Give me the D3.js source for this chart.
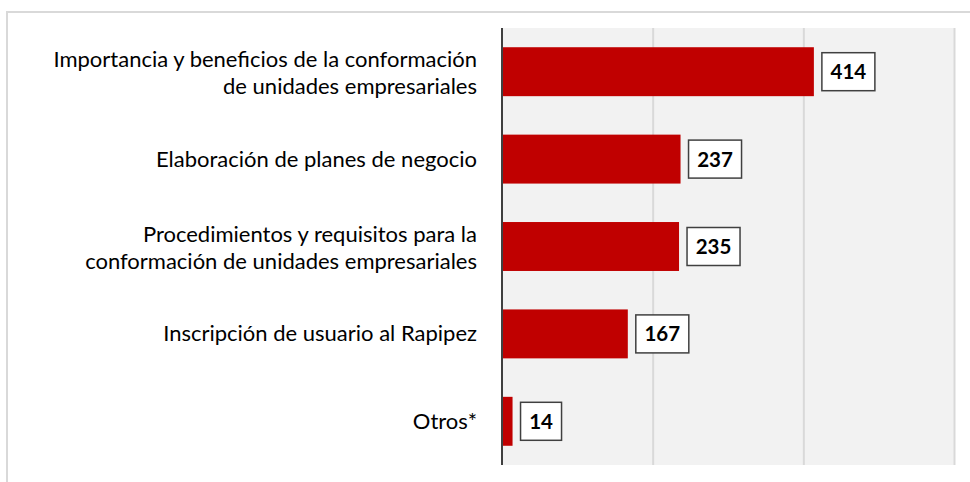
<!DOCTYPE html>
<html><head><meta charset="utf-8">
<script src="https://cdn.jsdelivr.net/npm/d3@7"></script>
<style>html,body{margin:0;padding:0;background:#fff;overflow:hidden}</style>
</head><body>
<svg id="c" width="970" height="482"></svg>
<script>
const categories = [
  ["Importancia y beneficios de la conformación", "de unidades empresariales"],
  ["Elaboración de planes de negocio"],
  ["Procedimientos y requisitos para la", "conformación de unidades empresariales"],
  ["Inscripción de usuario al Rapipez"],
  ["Otros*"]
];
const values = [414, 237, 235, 167, 14];
const xTicks = [0, 200, 400, 600];

(function () {
const svg = d3.select("#c");
const font = "Lato, 'Open Sans', sans-serif";

// outer frame
svg.append("rect").attr("x", 7).attr("y", 12).attr("width", 1000).attr("height", 500)
  .attr("fill", "none").attr("stroke", "#d9d9d9").attr("stroke-width", 2);

const pl = 502, pr = 954, pt = 28, pb = 465;
const x = d3.scaleLinear().domain([0, 600]).range([pl, pr]);
const y = d3.scaleBand().domain(d3.range(values.length)).range([pt, pb]).paddingInner(0.44).paddingOuter(0.22);

svg.append("rect").attr("x", pl).attr("y", pt).attr("width", pr - pl + 1).attr("height", pb - pt).attr("fill", "#f2f2f2");

// gridlines
svg.append("g").attr("transform", `translate(0,${pb})`)
  .call(d3.axisBottom(x).tickValues(xTicks.slice(1)).tickSize(-(pb - pt)).tickFormat(""))
  .call(g => g.select(".domain").remove())
  .call(g => g.selectAll(".tick line").attr("stroke", "#d9d9d9").attr("stroke-width", 2));

// bars
svg.append("g").selectAll("rect").data(values).join("rect")
  .attr("x", x(0)).attr("y", (d, i) => y(i))
  .attr("width", d => x(d) - x(0)).attr("height", y.bandwidth())
  .attr("fill", "#c00000");

// y axis
svg.append("g").attr("transform", `translate(${pl},0)`)
  .call(d3.axisLeft(y).tickSize(0).tickFormat(""))
  .call(g => g.select(".domain").attr("stroke", "#404040").attr("stroke-width", 2).attr("d", `M0,${pt}V${pb}`));

// category labels
const lab = svg.append("g").attr("font-family", font).attr("font-size", 22).attr("fill", "#000").attr("text-anchor", "end");
categories.forEach((lines, i) => {
  const cy = y(i) + y.bandwidth() / 2;
  const lh = 27.5;
  const base = lines.length > 1 ? cy + 9 : cy + 7.5;
  lines.forEach((t, j) => {
    lab.append("text").attr("x", 477).attr("y", base + (j - (lines.length - 1) / 2) * lh).text(t);
  });
});

// value labels
const vl = svg.append("g");
values.forEach((v, i) => {
  const cy = y(i) + y.bandwidth() / 2;
  const w = v >= 100 ? 53 : 41;
  const bx = x(v) + 8;
  vl.append("rect").attr("x", bx).attr("y", cy - 19).attr("width", w).attr("height", 38)
    .attr("fill", "#fff").attr("stroke", "#404040").attr("stroke-width", 1.5);
  vl.append("text").attr("font-family", font).attr("font-size", 20.5).attr("font-weight", "bold")
    .attr("text-anchor", "middle").attr("x", bx + w / 2).attr("y", cy + 7.5).text(v);
});
})();
</script>
</body></html>
